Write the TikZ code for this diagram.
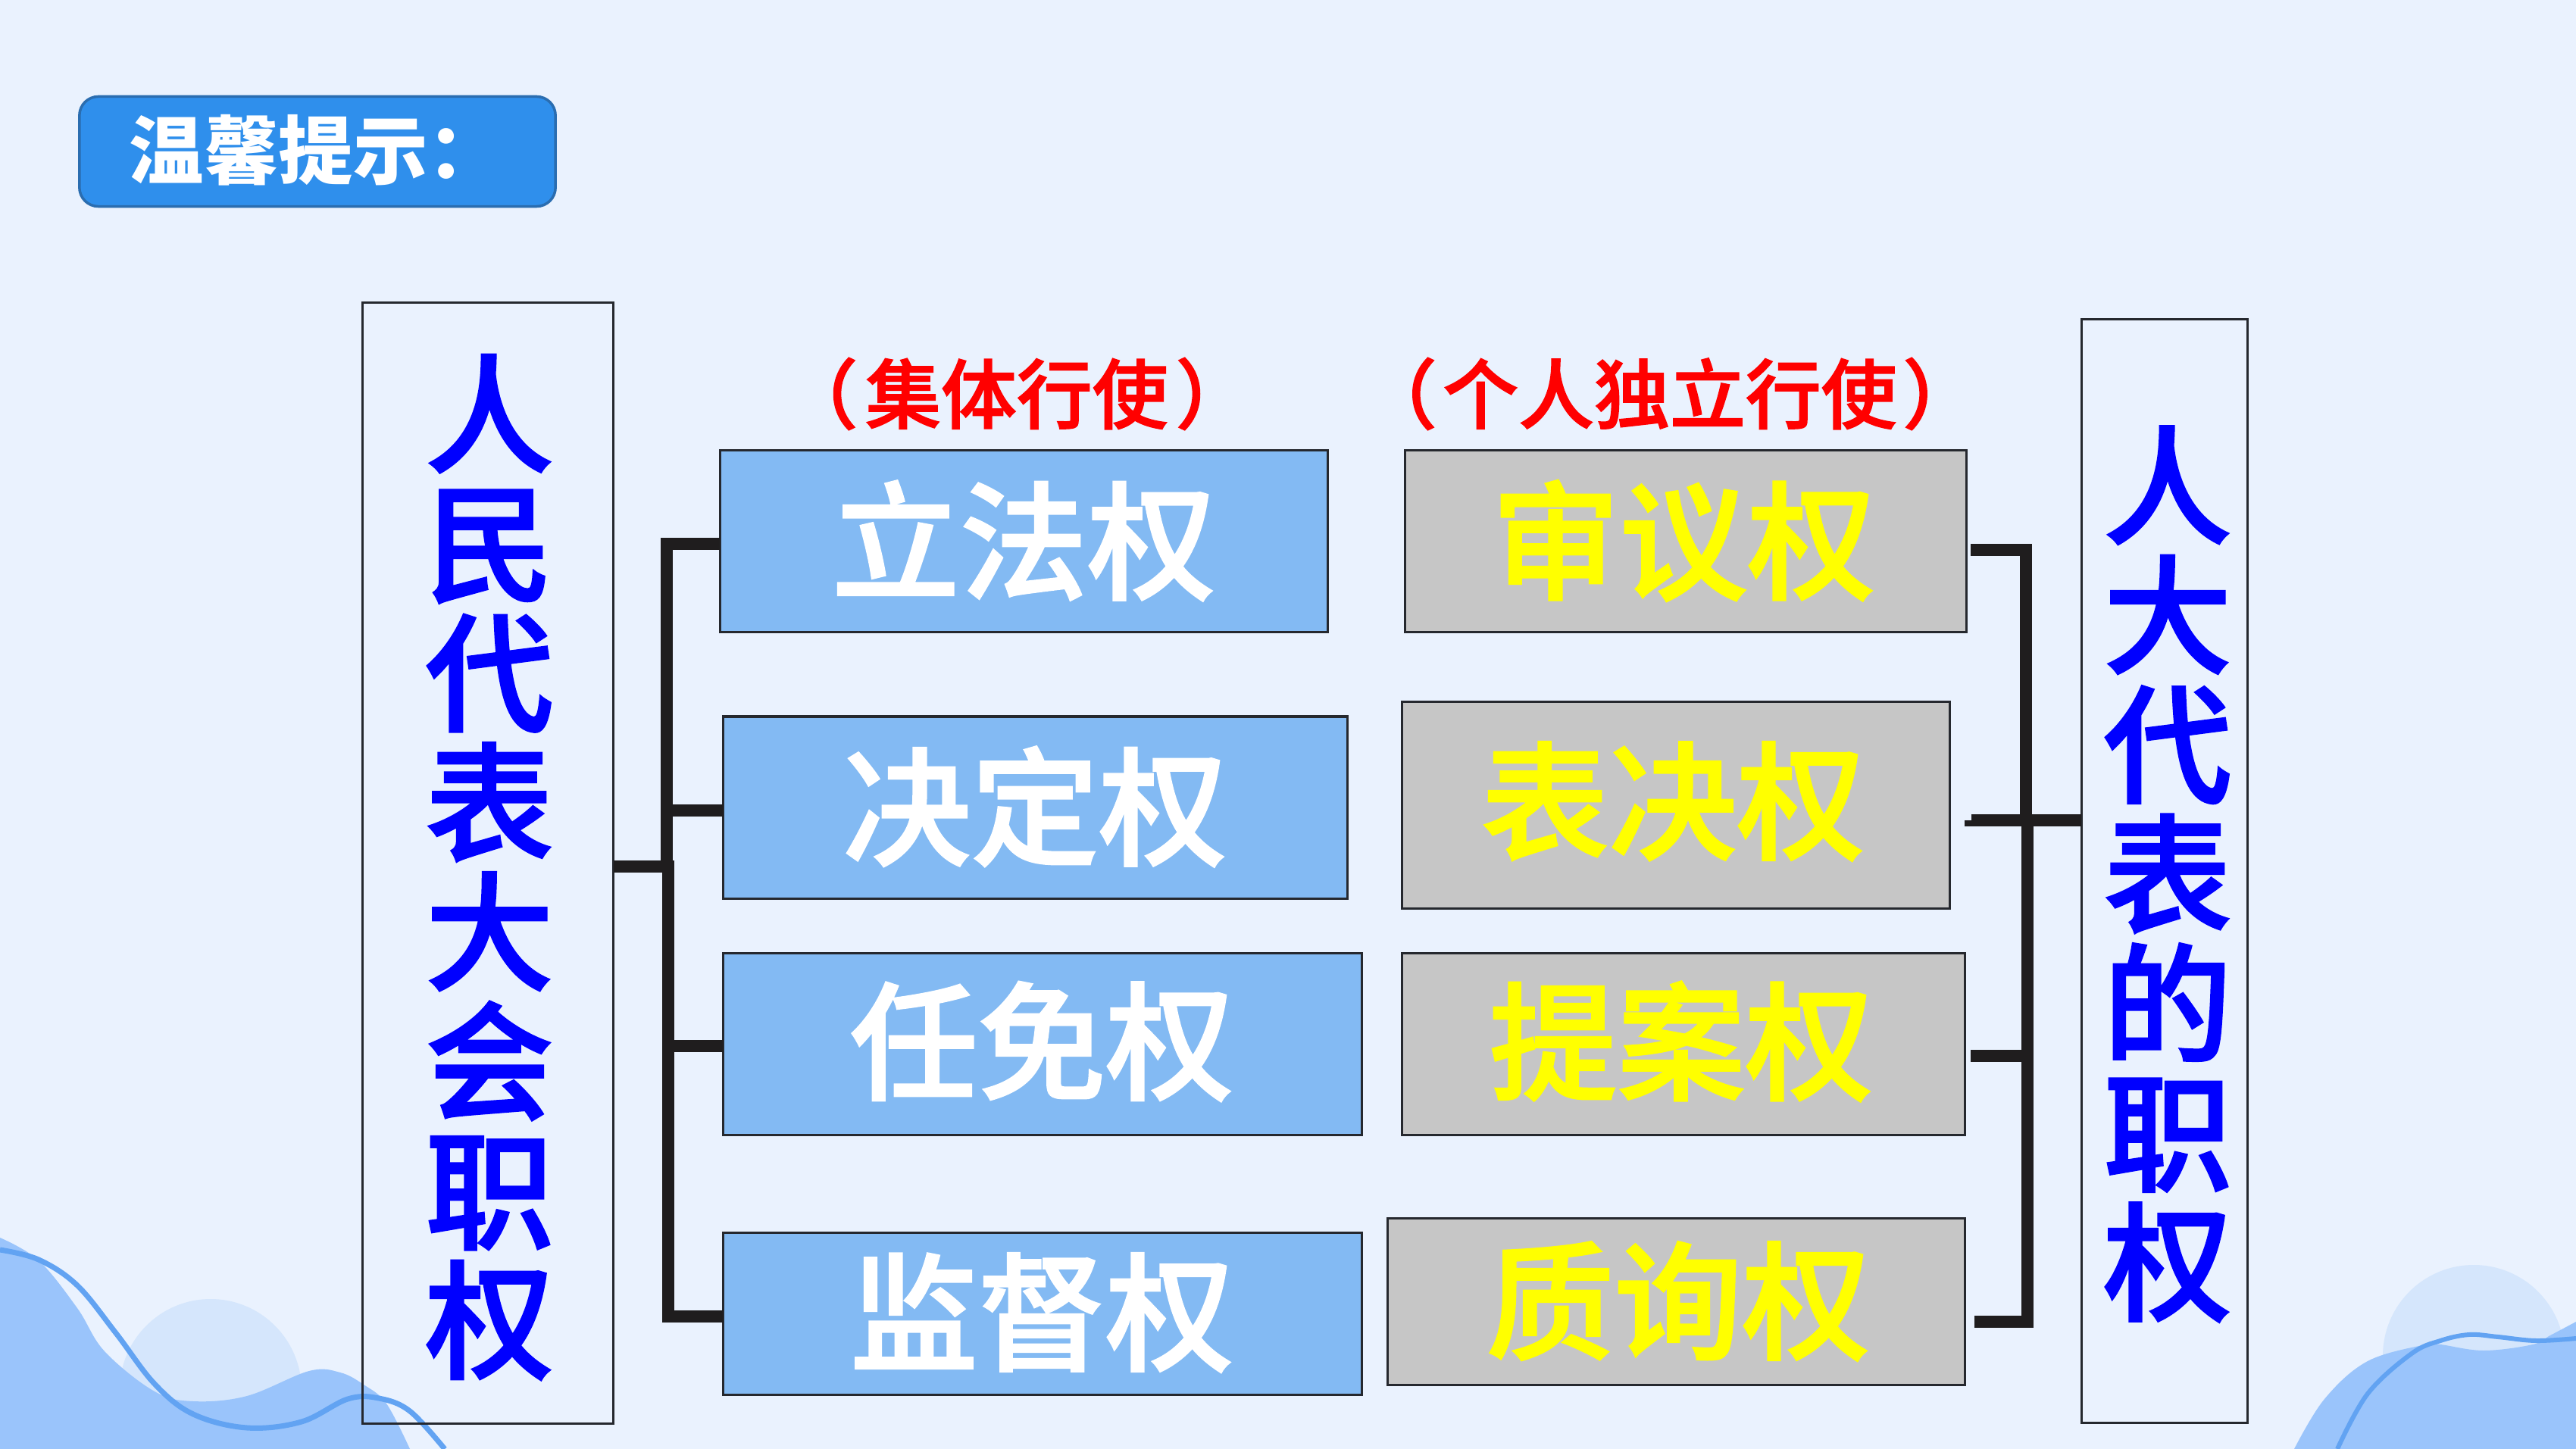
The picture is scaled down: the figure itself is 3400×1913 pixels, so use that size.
\documentclass[tikz,border=0pt]{standalone}
\usepackage{fontspec}
\setmainfont{Noto Sans CJK SC}
\newfontfamily\mediumcjk[FakeBold=1.6]{Noto Sans CJK SC Medium}
\definecolor{pagebg}{HTML}{EAF2FE}
\definecolor{wavefill}{HTML}{9AC4FB}
\definecolor{waveline}{HTML}{62A3F2}
\definecolor{bubble}{HTML}{D5E6FC}
\definecolor{tagfill}{HTML}{2F8FEC}
\definecolor{tagedge}{HTML}{2A6DB0}
\definecolor{bluebox}{HTML}{83BAF3}
\definecolor{greybox}{HTML}{C6C6C6}
\definecolor{edgeink}{HTML}{25282E}
\definecolor{barink}{HTML}{1F1D1E}
\definecolor{deepblue}{HTML}{0000FF}
\definecolor{titlered}{HTML}{FF0000}
\definecolor{brightyellow}{HTML}{FFFF00}
% one unit of the picture is 0.01cm, so 1 unit is about 0.2845pt of type
\newcommand{\bigtype}{\mediumcjk\fontsize{48.2pt}{48.6pt}\selectfont}
\newcommand{\labeltype}{\mediumcjk\fontsize{48pt}{48pt}\selectfont}
\newcommand{\captype}{\mediumcjk\fontsize{28.4pt}{32pt}\selectfont}
\newcommand{\tagtype}{\bfseries\fontsize{28pt}{32pt}\selectfont}
\tikzset{
  x=0.01cm,y=-0.01cm,
  tallbox/.style={draw=edgeink,line width=0.03cm,inner sep=0,outer sep=0},
  powerbox/.style={draw=edgeink,line width=0.03cm,inner sep=0,outer sep=0},
  columntext/.style={text=deepblue,font=\bigtype,align=center,inner sep=0},
  lab/.style={font=\labeltype,inner sep=0},
  captext/.style={text=titlered,font=\captype,inner sep=0},
  bar/.style={draw=barink,line width=0.16cm,line cap=butt,line join=miter},
  thinbar/.style={draw=barink,line width=0.08cm,line cap=butt},
}
\newcommand{\boxat}[6]{\node[powerbox,fill=#5,minimum width={(#3-#1)*0.01cm},minimum height={(#4-#2)*0.01cm}] (#6) at ({(#1+#3)/2},{(#2+#4)/2}) {};}
\begin{document}
\begin{tikzpicture}
\useasboundingbox (0,0) rectangle (3400,1913);
\fill[pagebg] (0,0) rectangle (3400,1913);

% corner waves
\begin{scope}
\clip (0,0) rectangle (3400,1913);
\fill[bubble] (278,1835) circle (120);
\fill[wavefill] plot[smooth,tension=0.6] coordinates {(0,1634) (51,1664) (102,1727) (138,1784) (204,1837) (255,1850) (326,1843) (408,1810) (449,1812) (480,1828) (510,1853) (541,1913)} -- (0,1913) -- cycle;
\draw[waveline,line width=0.07cm] plot[smooth,tension=0.6] coordinates {(0,1650) (51,1663) (102,1697) (153,1760) (204,1827) (255,1867) (326,1885) (398,1877) (459,1847) (500,1846) (541,1863) (587,1913)};
\fill[bubble] (3265,1790) circle (120);
\fill[wavefill] plot[smooth,tension=0.6] coordinates {(3028,1913) (3068,1847) (3125,1797) (3202,1775) (3221,1775) (3278,1783) (3343,1775) (3366,1763) (3400,1745)} -- (3400,1913) -- cycle;
\draw[waveline,line width=0.06cm] plot[smooth,tension=0.6] coordinates {(3085,1913) (3125,1840) (3183,1787) (3221,1770) (3259,1762) (3297,1765) (3347,1770) (3400,1767)};
\end{scope}

% heading tag
\node[draw=tagedge,line width=0.035cm,fill=tagfill,rounded corners=0.25cm,minimum width=6.28cm,minimum height=1.45cm,inner sep=0] (tag) at (419,200) {};
\node[text=white,font=\tagtype,anchor=west,inner sep=0] (tagtext) at (170,198) {温馨提示：};

% side columns
\node[tallbox,minimum width=3.31cm,minimum height=14.79cm] (people) at (644,1139.5) {};
\node[columntext] (peopletext) at (646,1145) {人\\民\\代\\表\\大\\会\\职\\权};
\node[tallbox,minimum width=2.19cm,minimum height=14.57cm] (deputy) at (2857,1150) {};
\node[columntext] (deputytext) at (2861,1154) {人\\大\\代\\表\\的\\职\\权};

% collective powers
\boxat{950}{595}{1752}{835}{bluebox}{lifa}
\boxat{954}{946}{1778}{1186}{bluebox}{jueding}
\boxat{954}{1258}{1797}{1498}{bluebox}{renmian}
\boxat{954}{1627}{1797}{1841}{bluebox}{jiandu}
% individual powers
\boxat{1854}{595}{2595}{835}{greybox}{shenyi}
\boxat{1850}{927}{2573}{1199}{greybox}{biaojue}
\boxat{1850}{1258}{2593}{1498}{greybox}{tian}
\boxat{1831}{1608}{2593}{1828}{greybox}{zhixun}

\node[lab,text=white] (t1) at (1351,714) {立法权};
\node[lab,text=white] (t2) at (1366,1065) {决定权};
\node[lab,text=white] (t3) at (1375,1375) {任免权};
\node[lab,text=white] (t4) at (1375,1733) {监督权};
\node[lab,text=brightyellow] (t5) at (2222,714) {审议权};
\node[lab,text=brightyellow] (t6) at (2208,1058) {表决权};
\node[lab,text=brightyellow] (t7) at (2219,1375) {提案权};
\node[lab,text=brightyellow] (t8) at (2215,1718) {质询权};

% column headings
\node[captext] (cap1) at (1342,520) {（\kern2.8pt 集体行使\kern2.8pt ）};
\node[captext] (cap2) at (2204,520) {（\kern2.2pt 个人独立行使\kern2.2pt ）};

% bracket on the left
\coordinate (ltop) at (880,718);
\coordinate (lmid) at (880,1144);
\coordinate (lbot) at (882,1738);
\draw[bar] (lifa.west |- ltop) -- (ltop) -- (880,1150);
\draw[bar] (882,1136) -- (lbot) -- (jiandu.west |- lbot);
\draw[bar] (people.east |- lmid) -- (lmid);
\draw[bar] (880,1070) -- (jueding.west |- 0,1070);
\draw[bar] (882,1381) -- (renmian.west |- 0,1381);

% bracket on the right
\coordinate (rtop) at (2674,726);
\coordinate (rmid) at (2602,1083);
\coordinate (rbot) at (2676,1745);
\draw[bar] (2601,726) -- (rtop) -- (2674,1090);
\draw[bar] (2676,1075) -- (rbot) -- (2606,1745);
\draw[bar] (rmid) -- (deputy.west |- rmid);
\draw[thinbar] (2593,1087) -- (rmid |- 0,1087);
\draw[bar] (2601,1394) -- (2676,1394);
\end{tikzpicture}
\end{document}
